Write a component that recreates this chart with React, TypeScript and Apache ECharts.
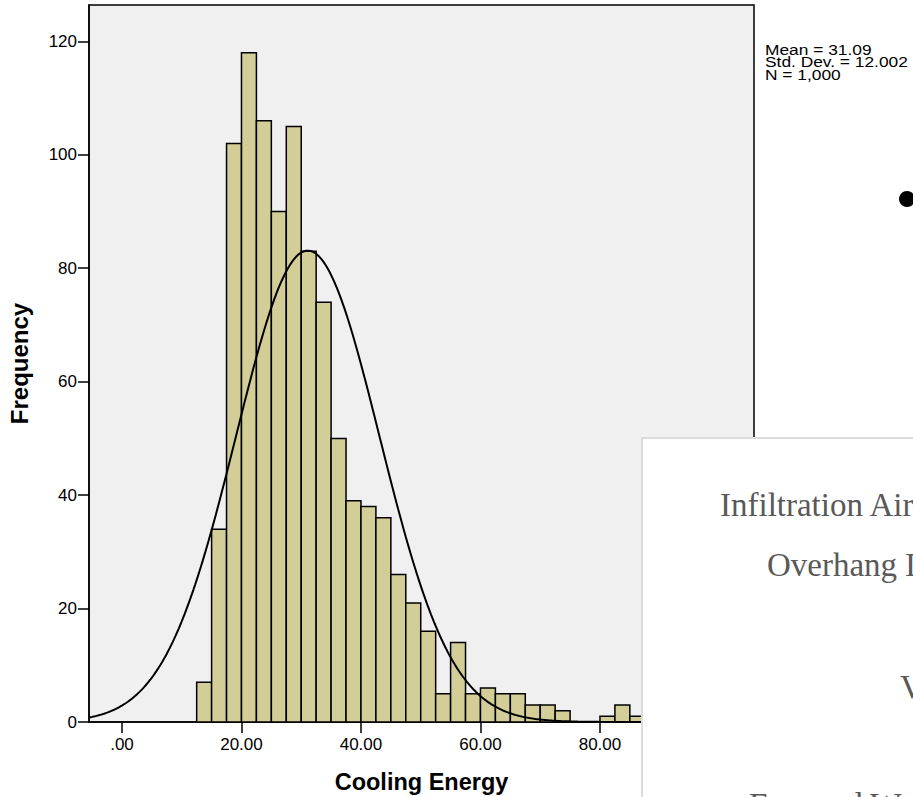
import React, { useEffect, useRef } from "react";
import * as echarts from "echarts";

// Histogram bins (lower edges) and their frequencies
const binStarts = [12.5, 15, 17.5, 20, 22.5, 25, 27.5, 30, 32.5, 35, 37.5, 40, 42.5, 45, 47.5, 50, 52.5, 55, 57.5, 60, 62.5, 65, 67.5, 70, 72.5, 75, 77.5, 80, 82.5, 85];
const frequencies = [7, 34, 102, 118, 106, 90, 105, 83, 74, 50, 39, 38, 36, 26, 21, 16, 5, 14, 5, 6, 5, 5, 3, 3, 2, 0, 0, 1, 3, 1];
const binWidth = 2.5;

// Summary statistics shown on the chart (normal curve is defined by them)
const meanValue = 31.09;
const stdDev = 12.002;
const nCount = 1000;
const statLines = ["Mean = 31.09", "Std. Dev. = 12.002", "N = 1,000"];

// Axis ticks
const xTickValues = [0, 20, 40, 60, 80, 100];
const yTickValues = [0, 20, 40, 60, 80, 100, 120];
const xMin = -5.52;
const xMax = 105.78;
const yMax = 126.4;

// Overlay slide texts
const slideLines = ["Infiltration Air", "Overhang D", "V", "Exposed W"];

function normalCurve(): number[][] {
  const pts: number[][] = [];
  const scale = (nCount * binWidth) / (stdDev * Math.sqrt(2 * Math.PI));
  for (let x = xMin; x <= xMax + 1e-9; x += 0.25) {
    const z = (x - meanValue) / stdDev;
    pts.push([x, scale * Math.exp(-0.5 * z * z)]);
  }
  return pts;
}

export default function App() {
  const ref = useRef<HTMLDivElement>(null);
  useEffect(() => {
    if (!ref.current) return;
    const chart = echarts.init(ref.current, undefined, { renderer: "svg" });
    const font = "'Liberation Sans', Arial, sans-serif";
    const serif = "'Liberation Serif', 'Times New Roman', serif";
    const barData = binStarts.map((s, i) => [s, s + binWidth, frequencies[i]]);
    const statTexts = statLines.map((t, i) => ({
      type: "text",
      z: 100,
      x: 765,
      y: 49 + i * 12.8,
      scaleX: 1.12,
      style: { text: t, fontFamily: font, fontSize: 15.5, fill: "#000", verticalAlign: "middle" },
    }));
    chart.setOption({
      animation: false,
      grid: {
        left: 89,
        top: 5,
        right: 159,
        bottom: 75,
        show: true,
        backgroundColor: "#f0f0f0",
        borderColor: "#000",
        borderWidth: 1.5,
        containLabel: false,
        outerBoundsMode: "none",
      },
      xAxis: {
        type: "value",
        min: xMin,
        max: xMax,
        name: "Cooling Energy",
        nameLocation: "middle",
        nameGap: 48,
        nameTextStyle: { fontFamily: font, fontSize: 23.5, fontWeight: "bold", color: "#000" },
        splitLine: { show: false },
        axisLine: { show: true, onZero: false, lineStyle: { color: "#000", width: 1.5 } },
        axisTick: { show: true, inside: false, length: 11, customValues: xTickValues, lineStyle: { color: "#000", width: 1.5 } },
        axisLabel: {
          customValues: xTickValues,
          margin: 14,
          fontFamily: font,
          fontSize: 17,
          color: "#000",
          formatter: (v: number) => (v === 0 ? ".00" : v.toFixed(2)),
        },
      },
      yAxis: {
        type: "value",
        min: 0,
        max: yMax,
        name: "Frequency",
        nameLocation: "middle",
        nameGap: 58,
        nameRotate: 90,
        nameTextStyle: { fontFamily: font, fontSize: 24, fontWeight: "bold", color: "#000" },
        splitLine: { show: false },
        axisLine: { show: true, onZero: false, lineStyle: { color: "#000", width: 1.5 } },
        axisTick: { show: true, inside: false, length: 11, customValues: yTickValues, lineStyle: { color: "#000", width: 1.5 } },
        axisLabel: {
          customValues: yTickValues,
          margin: 12,
          fontFamily: font,
          fontSize: 17,
          color: "#000",
        },
      },
      series: [
        {
          type: "custom",
          name: "Frequency",
          data: barData,
          encode: { x: [0, 1], y: 2 },
          renderItem: (params: any, api: any) => {
            const p0 = api.coord([api.value(0), 0]);
            const p1 = api.coord([api.value(1), api.value(2)]);
            return {
              type: "rect",
              shape: { x: p0[0], y: p1[1], width: p1[0] - p0[0], height: p0[1] - p1[1] },
              style: { fill: "#d3ce97", stroke: "#000", lineWidth: 1.5 },
            };
          },
          z: 2,
        },
        {
          type: "line",
          name: "Normal",
          data: normalCurve(),
          showSymbol: false,
          symbol: "none",
          lineStyle: { color: "#000", width: 2 },
          z: 3,
        },
      ],
      graphic: [
        ...statTexts,
        {
          type: "circle",
          z: 100,
          shape: { cx: 907, cy: 199, r: 8 },
          style: { fill: "#000" },
        },
        {
          type: "rect",
          z: 100,
          shape: { x: 642, y: 438, width: 400, height: 500 },
          style: { fill: "#fff", stroke: "#dcdcdc", lineWidth: 2 },
        },
        {
          type: "text",
          z: 101,
          x: 720,
          y: 505,
          style: { text: slideLines[0], fontFamily: serif, fontSize: 33, fill: "#595959", verticalAlign: "middle" },
        },
        {
          type: "text",
          z: 101,
          x: 767,
          y: 565,
          style: { text: slideLines[1], fontFamily: serif, fontSize: 33, fill: "#595959", verticalAlign: "middle" },
        },
        {
          type: "text",
          z: 101,
          x: 900,
          y: 687,
          style: { text: slideLines[2], fontFamily: serif, fontSize: 33, fill: "#595959", verticalAlign: "middle" },
        },
        {
          type: "text",
          z: 101,
          x: 749,
          y: 805,
          style: { text: slideLines[3], fontFamily: serif, fontSize: 33, fill: "#595959", verticalAlign: "middle" },
        },
      ],
    });
    return () => chart.dispose();
  }, []);
  return <div ref={ref} style={{ position: "absolute", left: 0, top: 0, width: 913, height: 797, overflow: "hidden" }} />;
}
